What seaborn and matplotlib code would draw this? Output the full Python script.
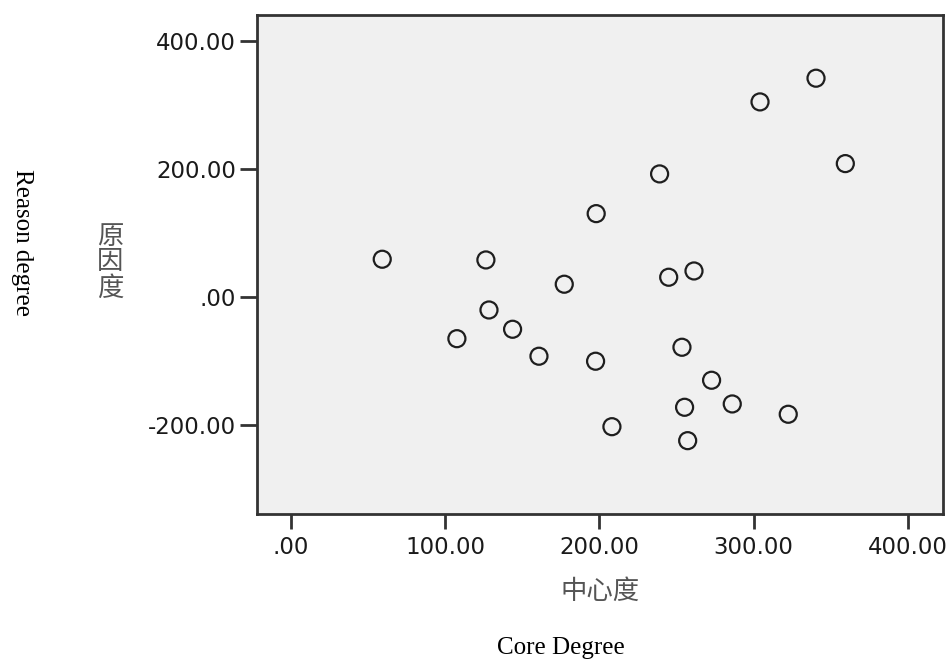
import numpy as np
import pandas as pd
import matplotlib
matplotlib.use("Agg")
import matplotlib.pyplot as plt
import seaborn as sns

# values (中心度 vs 原因度)
core_degree = [59.2, 126.4, 197.9, 177.2, 128.4, 143.7, 107.6, 160.8, 197.5, 208.1, 239.0,
               304.1, 340.4, 359.4, 244.9, 261.3, 253.5, 272.7, 255.2, 286.1, 322.4, 257.2]
reason_degree = [58.7, 57.6, 129.9, 19.7, -20.5, -50.6, -65.3, -92.7, -100.5, -202.7, 191.9,
                 304.3, 341.3, 208.0, 30.6, 40.4, -78.7, -130.2, -172.4, -167.2, -183.3, -224.5]

x_ticks = [0, 100, 200, 300, 400]
x_ticklabels = [".00", "100.00", "200.00", "300.00", "400.00"]
y_ticks = [-200, 0, 200, 400]
y_ticklabels = ["-200.00", ".00", "200.00", "400.00"]

df = pd.DataFrame({"core": core_degree, "reason": reason_degree})

sns.set_style("ticks")
plt.rcParams['font.family'] = ['DejaVu Sans', 'Noto Sans CJK SC']

fig = plt.figure(figsize=(9.5, 6.6), dpi=100)
ax = fig.add_axes([0.2705, 0.2212, 0.7221, 0.7561])
ax.set_facecolor('#f0f0f0')

sns.scatterplot(data=df, x='core', y='reason', marker='o', s=150,
                edgecolor='#1e1e1e', linewidth=1.6, ax=ax, legend=False)
ax.collections[0].set_facecolor('none')

ax.set_xlim(-22, 422.7)
ax.set_ylim(-339, 440)
ax.set_xticks(x_ticks)
ax.set_xticklabels(x_ticklabels)
ax.set_yticks(y_ticks)
ax.set_yticklabels(y_ticklabels)

for side in ['top', 'right', 'bottom', 'left']:
    ax.spines[side].set_visible(True)
    ax.spines[side].set_linewidth(2)
    ax.spines[side].set_color('#333333')

ax.tick_params(axis='both', labelsize=16.5, colors='#333333', labelcolor='#1a1a1a', width=2)
ax.tick_params(axis='x', length=11, pad=5)
ax.tick_params(axis='y', length=12, pad=3)

# Chinese axis titles (gray)
ax.set_xlabel('中心度', family=['Noto Sans CJK SC', 'DejaVu Sans'], fontsize=19, color='#555555')
ax.xaxis.set_label_coords(0.5, -0.156)
ax.xaxis.label.set_va('center')
ax.set_ylabel('原\n因\n度', family=['Noto Sans CJK SC', 'DejaVu Sans'], fontsize=19,
              color='#555555', rotation=0, linespacing=0.95)
ax.yaxis.set_label_coords(-0.2143, 0.505)
ax.yaxis.label.set_va('center')
ax.yaxis.label.set_ha('center')

# English captions
fig.text(0.5905, 0.0095, 'Core Degree', family='Liberation Serif', fontsize=18,
         ha='center', va='baseline', color='black')
fig.text(0.0232, 0.633, 'Reason degree', family='Liberation Serif', fontsize=18,
         ha='center', va='center', rotation=-90, color='black')

fig.savefig("out.png", dpi=100, facecolor='white')
